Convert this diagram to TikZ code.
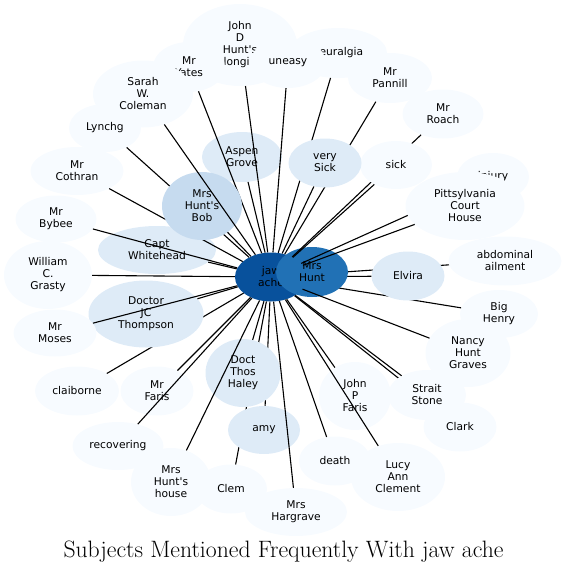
\documentclass[tikz,border=0pt]{standalone}
\usepackage{fontspec}
\usetikzlibrary{shapes.geometric}
\newfontfamily\djv{DejaVu Sans}
\definecolor{bluA}{HTML}{F7FBFF}
\definecolor{bluB}{HTML}{DEEBF7}
\definecolor{bluC}{HTML}{C6DBEF}
\definecolor{bluG}{HTML}{2171B5}
\definecolor{bluH}{HTML}{08519C}
\tikzset{
  subj/.style ={ellipse, inner sep=0pt, align=center,
                font=\djv\fontsize{10.7}{12}\selectfont},
  sz/.style 2 args={minimum width=#1pt, minimum height=#2pt},
  pale/.style ={subj, fill=bluA},
  lite/.style ={subj, fill=bluB},
  deep/.style ={subj, fill=bluC},
  hub/.style  ={subj, fill=bluG},
  core/.style ={subj, fill=bluH},
  ln/.style   ={line width=1.1pt}
}

\begin{document}
\begin{tikzpicture}[x=1pt,y=-1pt]
  \useasboundingbox (0,0) rectangle (568,573);
  \node[core, sz={72}{49}] (jaw) at (271,277) {jaw\\ache};

  % right side, partly under Mrs Hunt
  \node[pale, sz={78}{48}] (henry) at (499,314) {Big\\Henry};
  \draw[ln] (jaw) -- (henry);
  \node[pale, sz={113}{49}] (abd) at (505,261) {abdominal\\ailment};
  \draw[ln] (jaw) -- (abd);
  \node[lite, sz={73}{49}] (elv) at (408,276) {Elvira};
  \draw[ln] (jaw) -- (elv);
  \node[hub, sz={72}{50}] (hunt) at (312,272) {Mrs\\Hunt};

  \node[pale, sz={85}{68}] (nancy) at (468,353) {Nancy\\Hunt\\Graves};
  \draw[ln] (jaw) -- (nancy);
  \node[pale, sz={72}{48}] (inj) at (493,177) {injury};
  \draw[ln] (jaw) -- (inj);
  \node[pale, sz={119}{68}] (pitts) at (465,206) {Pittsylvania\\Court\\House};
  \draw[ln] (jaw) -- (pitts);
  \node[pale, sz={81}{49}] (roach) at (443,114) {Mr\\Roach};
  \draw[ln] (jaw) -- (roach);
  \node[pale, sz={72}{48}] (sick) at (396,165) {sick};
  \draw[ln] (jaw) -- (sick);

  % top
  \node[pale, sz={98}{50}] (neur) at (338,53) {neuralgia};
  \draw[ln] (jaw) -- (neur);
  \node[pale, sz={84}{50}] (pann) at (390,78) {Mr\\Pannill};
  \draw[ln] (jaw) -- (pann);
  \node[lite, sz={73}{49}] (vsick) at (325,163) {very\\Sick};
  \draw[ln] (jaw) -- (vsick);
  \node[lite, sz={80}{50}] (aspen) at (242,157) {Aspen\\Grove};
  \draw[ln] (jaw) -- (aspen);
  \node[pale, sz={114}{82}] (jdh) at (240,45) {John\\D\\Hunt's\\longi\hphantom{n}};
  \draw[ln] (jaw) -- (jdh);
  \node[pale, sz={72}{50}] (yates) at (189,67) {Mr\\Yates};
  \draw[ln] (jaw) -- (yates);
  \node[pale, sz={76}{50}] (uneasy) at (288,63) {uneasy};
  \draw[ln] (jaw) -- (uneasy);

  % left
  \node[lite, sz={118}{48}] (capt) at (157,250) {Capt\\Whitehead};
  \draw[ln] (jaw) -- (capt);
  \node[pale, sz={81}{47}] (byb) at (56,219) {Mr\\Bybee};
  \draw[ln] (jaw) -- (byb);
  \node[pale, sz={72}{48}] (lyn) at (105,128) {Lynchg};
  \draw[ln] (jaw) -- (lyn);
  \node[pale, sz={93}{48}] (coth) at (77,171) {Mr\\Cothran};
  \draw[ln] (jaw) -- (coth);
  \node[deep, sz={80}{68}] (bob) at (202,206) {Mrs\\Hunt's\\Bob};
  \draw[ln] (jaw) -- (bob);
  \node[pale, sz={100}{67}] (sarah) at (143,94) {Sarah\\W.\\Coleman};
  \draw[ln] (jaw) -- (sarah);
  \node[pale, sz={88}{68}] (gras) at (48,275) {William\\C.\\Grasty};
  \draw[ln] (jaw) -- (gras);
  \node[pale, sz={84}{49}] (clai) at (77,391) {claiborne};
  \draw[ln] (jaw) -- (clai);
  \node[lite, sz={115}{67}] (thom) at (146,314) {Doctor\\JC\\Thompson};
  \draw[ln] (jaw) -- (thom);
  \node[pale, sz={83}{47}] (mos) at (55,333) {Mr\\Moses};
  \draw[ln] (jaw) -- (mos);

  % bottom
  \node[pale, sz={73}{49}] (faris) at (157,391) {Mr\\Faris};
  \draw[ln] (jaw) -- (faris);
  \node[pale, sz={91}{48}] (recov) at (118,446) {recovering};
  \draw[ln] (jaw) -- (recov);
  \node[pale, sz={72}{49}] (clem) at (231,489) {Clem};
  \draw[ln] (jaw) -- (clem);
  \node[lite, sz={72}{48}] (amy) at (264,430) {amy};
  \draw[ln] (jaw) -- (amy);
  \node[lite, sz={75}{68}] (hal) at (243,373) {Doct\\Thos\\Haley};
  \draw[ln] (jaw) -- (hal);
  \node[pale, sz={80}{68}] (hhouse) at (171,482) {Mrs\\Hunt's\\house};
  \draw[ln] (jaw) -- (hhouse);
  \node[pale, sz={102}{48}] (harg) at (296,512) {Mrs\\Hargrave};
  \draw[ln] (jaw) -- (harg);
  \node[pale, sz={72}{49}] (death) at (335,461) {death};
  \draw[ln] (jaw) -- (death);
  \node[pale, sz={72}{68}] (jpf) at (355,396) {John\\P\\Faris};
  \draw[ln] (jaw) -- (jpf);
  \node[pale, sz={94}{68}] (lucy) at (398,477) {Lucy\\Ann\\Clement};
  \draw[ln] (jaw) -- (lucy);
  \node[pale, sz={73}{49}] (clark) at (460,427) {Clark};
  \draw[ln] (jaw) -- (clark);
  \node[pale, sz={78}{50}] (strait) at (427,395) {Strait\\Stone};
  \draw[ln] (jaw) -- (strait);

  \node[anchor=base, font=\fontsize{23.7}{27}\selectfont] (title) at (283.5,557)
    {Subjects Mentioned Frequently With jaw ache};
\end{tikzpicture}
\end{document}
